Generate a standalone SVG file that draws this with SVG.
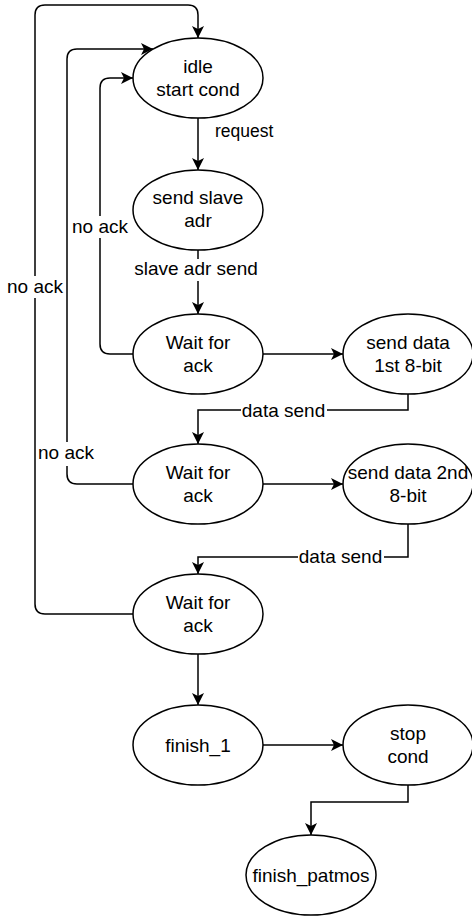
<svg xmlns="http://www.w3.org/2000/svg" width="472" height="918" viewBox="0 0 472 918">
<defs>
<marker id="arr" markerUnits="userSpaceOnUse" markerWidth="13" markerHeight="13" refX="12" refY="6" orient="auto" viewBox="0 0 13 12">
<path d="M0,0 L12,6 L0,12 L3,6 Z" fill="#000"/>
</marker>
<style>
.n ellipse{fill:#fff;stroke:#000;stroke-width:1.5}
.n text{font-family:"Liberation Sans",Arial,Helvetica,sans-serif;font-size:19px;fill:#000;text-anchor:middle}
.e path{fill:none;stroke:#000;stroke-width:1.5;marker-end:url(#arr)}
.lb{fill:#fff}
.lt{font-family:"Liberation Sans",Arial,Helvetica,sans-serif;font-size:19px;fill:#000;text-anchor:middle}
</style>
</defs>
<rect width="472" height="918" fill="#fff"/>
<g id="idle" class="n"><ellipse cx="198" cy="78" rx="65" ry="40"/><text x="198" y="73">idle</text><text x="198" y="96">start cond</text></g>
<g id="send_slave_adr" class="n"><ellipse cx="198" cy="210" rx="65" ry="40"/><text x="198" y="204">send slave</text><text x="198" y="227">adr</text></g>
<g id="wait_ack_1" class="n"><ellipse cx="198" cy="354" rx="65" ry="40"/><text x="198" y="349">Wait for</text><text x="198" y="372">ack</text></g>
<g id="send_data_1" class="n"><ellipse cx="408" cy="354" rx="65" ry="40"/><text x="408" y="349">send data</text><text x="408" y="372">1st 8-bit</text></g>
<g id="wait_ack_2" class="n"><ellipse cx="198" cy="484" rx="65" ry="40"/><text x="198" y="479">Wait for</text><text x="198" y="502">ack</text></g>
<g id="send_data_2" class="n"><ellipse cx="408" cy="484" rx="65" ry="40"/><text x="408" y="479">send data 2nd</text><text x="408" y="502">8-bit</text></g>
<g id="wait_ack_3" class="n"><ellipse cx="198" cy="614" rx="65" ry="40"/><text x="198" y="609">Wait for</text><text x="198" y="632">ack</text></g>
<g id="finish_1" class="n"><ellipse cx="198" cy="745" rx="65" ry="40"/><text x="198" y="752">finish_1</text></g>
<g id="stop_cond" class="n"><ellipse cx="408" cy="745" rx="65" ry="40"/><text x="408" y="740">stop</text><text x="408" y="763">cond</text></g>
<g id="finish_patmos" class="n"><ellipse cx="311" cy="875" rx="65" ry="40"/><text x="311" y="882">finish_patmos</text></g>
<g id="connectors" class="e">
<path d="M198,118 V170"/>
<text x="215" y="137" style="font-family:'Liberation Sans',Arial,sans-serif;font-size:17.5px;fill:#000">request</text>
<path d="M198,250 V314"/>
<rect class="lb" x="134" y="259" width="126" height="22"/>
<text class="lt" x="196" y="275">slave adr send</text>
<path d="M133,354 H110 Q100,354 100,344 V88 Q100,78 110,78 H133"/>
<rect class="lb" x="71" y="216" width="58" height="22"/>
<text class="lt" x="100" y="233">no ack</text>
<path d="M263,354 H343"/>
<path d="M408,394 V410 H198 V444"/>
<rect class="lb" x="241" y="400" width="86" height="22"/>
<text class="lt" x="283.5" y="417">data send</text>
<path d="M133,484 H77 Q67,484 67,474 V59 Q67,49 77,49 H153"/>
<rect class="lb" x="37" y="442" width="58" height="24"/>
<text class="lt" x="66" y="459">no ack</text>
<path d="M263,484 H343"/>
<path d="M408,524 V557 H198 V574"/>
<rect class="lb" x="298" y="547" width="86" height="22"/>
<text class="lt" x="340.5" y="563">data send</text>
<path d="M133,614 H45 Q35,614 35,604 V15 Q35,5 45,5 H188 Q198,5 198,15 V38"/>
<rect class="lb" x="6" y="276" width="58" height="22"/>
<text class="lt" x="35" y="293">no ack</text>
<path d="M198,654 V705"/>
<path d="M263,745 H343"/>
<path d="M408,785 V802 H311 V835"/>
</g>
</svg>
